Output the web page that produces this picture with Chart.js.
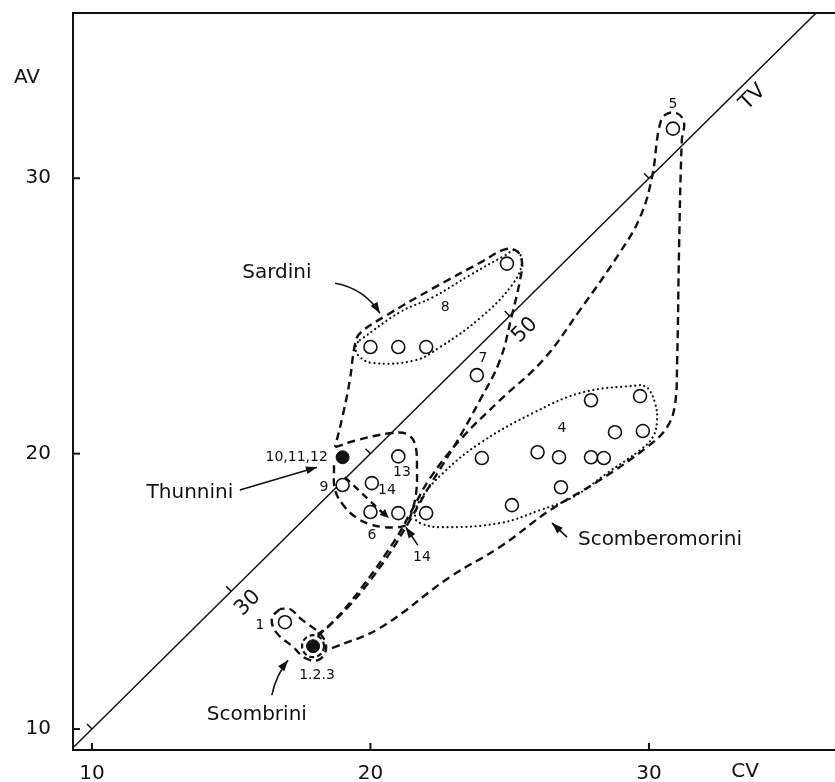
<!DOCTYPE html>
<html>
<head>
<meta charset="utf-8">
<script src="https://cdn.jsdelivr.net/npm/chart.js@4.4.1/dist/chart.umd.min.js"></script>
<style>
  html, body { margin: 0; padding: 0; background: #fff; }
  #wrap { width: 835px; height: 782px; }
</style>
</head>
<body>
<div id="wrap"><canvas id="c" width="835" height="782"></canvas></div>
<script>
// axis ticks
const xTicks = [10, 20, 30];
const yTicks = [10, 20, 30];
// ticks along the TV (= CV + AV) diagonal, two of them labelled
const tvTicks = [10, 15, 20, 25, 30];
const tvTickLabels = { 15: "30", 25: "50" };

// genera, [CV, AV]
const openPoints = [
  [20.0, 23.87], [21.0, 23.87], [22.0, 23.87], [24.9, 26.9],
  [23.82, 22.85], [30.86, 31.8],
  [21.0, 19.9], [19.0, 18.86], [20.05, 18.93],
  [20.0, 17.88], [21.0, 17.84], [22.0, 17.84],
  [24.0, 19.84], [26.0, 20.05], [25.08, 18.13], [27.92, 21.94],
  [29.68, 22.09], [28.78, 20.78], [29.78, 20.82], [26.77, 19.87],
  [27.92, 19.87], [28.38, 19.84], [26.84, 18.78],
  [16.93, 13.88]
];
const filledPoints = [[19.0, 19.87], [17.94, 13.01]];

// hand drawn outlines
const sardiniDotted = [
  [19.62, 24.12], [21.06, 25.14], [22.24, 25.68], [23.57, 26.48], [24.83, 27.2],
  [25.22, 27.39], [25.44, 26.95], [25.08, 26.12], [23.93, 24.92], [22.5, 23.87],
  [21.6, 23.39], [20.09, 23.29], [19.55, 23.58], [19.48, 23.94], [19.62, 24.12]
];
const sardiniDashed = [
  [18.11, 13.38], [19.26, 14.5], [20.52, 16.13], [21.42, 17.59], [22.14, 18.86],
  [23.03, 20.31], [23.93, 21.94], [24.65, 23.39], [25.08, 25.03], [25.37, 26.3],
  [25.44, 26.95], [25.26, 27.35], [24.83, 27.42], [24.04, 26.99], [22.24, 26.0],
  [20.59, 25.03], [19.62, 24.37], [19.44, 23.94], [19.26, 22.67], [19.01, 21.4],
  [18.73, 20.24]
];
const thunniniTop = [
  [18.73, 20.24], [19.52, 20.49], [20.7, 20.74], [21.31, 20.71], [21.6, 20.34],
  [21.67, 19.4], [21.63, 18.49], [21.45, 17.77], [21.31, 17.4]
];
const thunniniLow = [
  [18.69, 19.58], [18.73, 18.68], [19.08, 18.06], [19.52, 17.66], [19.98, 17.44],
  [20.52, 17.33], [20.99, 17.33], [21.31, 17.4]
];
const thunniniInner = [[19.08, 19.15], [20.52, 17.77]];
const scomberDashed = [
  [18.62, 12.94], [20.34, 13.67], [22.85, 15.52], [24.65, 16.61], [26.45, 17.95],
  [28.24, 19.04], [29.93, 20.24], [30.65, 20.96], [30.93, 21.76], [31.01, 23.28],
  [31.08, 27.39], [31.18, 31.38], [31.26, 32.03], [31.0, 32.36], [30.57, 32.29],
  [30.36, 31.81], [30.11, 30.04], [29.68, 28.58], [28.96, 27.31], [27.52, 25.21],
  [26.19, 23.39], [24.65, 21.94], [23.21, 20.49], [22.14, 19.11], [21.49, 17.95],
  [20.88, 16.86], [19.62, 15.05], [18.55, 13.78], [18.11, 13.45]
];
const scomberDotted = [
  [29.68, 22.49], [27.63, 22.23], [25.83, 21.47], [23.93, 20.38], [22.6, 19.29],
  [21.78, 18.31], [21.6, 17.7], [21.78, 17.48], [22.5, 17.33], [24.65, 17.48],
  [26.09, 17.95], [27.27, 18.42], [28.49, 19.29], [29.68, 20.13], [30.14, 20.6],
  [30.29, 21.22], [30.22, 21.83], [29.96, 22.38], [29.68, 22.49]
];
const scombriniDashed = [
  [16.75, 14.36], [16.46, 14.03], [16.61, 13.52], [17.22, 12.98], [17.65, 12.58],
  [18.11, 12.5], [18.4, 12.87], [18.26, 13.38], [17.47, 14.03], [17.11, 14.36],
  [16.75, 14.36]
];
const tvLine = [[9.3, 9.3], [36, 36]];

// text placed in data space
const pointLabels = [
  { t: "5", x: 30.86, y: 32.69 }, { t: "8", x: 22.68, y: 25.32 },
  { t: "7", x: 24.04, y: 23.47 }, { t: "4", x: 26.88, y: 20.93 },
  { t: "13", x: 21.13, y: 19.33 }, { t: "9", x: 18.33, y: 18.78 },
  { t: "14", x: 20.59, y: 18.68 }, { t: "6", x: 20.05, y: 17.04 },
  { t: "14", x: 21.85, y: 16.24 }, { t: "1", x: 16.03, y: 13.77 },
  { t: "1.2.3", x: 18.08, y: 11.96 },
  { t: "10,11,12", x: 18.47, y: 19.87, align: "right" }
];
const tribeLabels = [
  { t: "Sardini", x: 16.64, y: 26.55 },
  { t: "Thunnini", x: 13.52, y: 18.57 },
  { t: "Scombrini", x: 15.92, y: 10.51 },
  { t: "Scomberomorini", x: 27.45, y: 16.86, align: "left" }
];
const arrows = [
  { from: [18.73, 26.19], to: [20.34, 25.1], bend: -0.22 },
  { from: [15.31, 18.68], to: [18.08, 19.51], bend: 0 },
  { from: [16.46, 11.23], to: [17.04, 12.5], bend: -0.12 },
  { from: [27.06, 16.97], to: [26.52, 17.48], bend: 0 },
  { from: [21.7, 16.68], to: [21.27, 17.33], bend: 0 }
];

const FONT = "'DejaVu Sans', sans-serif";
const INK = "#111";

function outline(data, dotted) {
  return {
    data: data.map(p => ({ x: p[0], y: p[1] })),
    showLine: true,
    pointRadius: 0,
    borderColor: INK,
    borderWidth: dotted ? 2.2 : 2.4,
    borderDash: dotted ? [0.1, 4.6] : [8, 5],
    borderCapStyle: dotted ? "round" : "butt",
    tension: 0.4,
    fill: false
  };
}

function arrowHead(ctx, x0, y0, x1, y1, len, half) {
  const a = Math.atan2(y1 - y0, x1 - x0);
  ctx.beginPath();
  ctx.moveTo(x1, y1);
  ctx.lineTo(x1 - len * Math.cos(a) + half * Math.sin(a), y1 - len * Math.sin(a) - half * Math.cos(a));
  ctx.lineTo(x1 - len * Math.cos(a) - half * Math.sin(a), y1 - len * Math.sin(a) + half * Math.cos(a));
  ctx.closePath();
  ctx.fill();
}

const decor = {
  id: "decor",
  afterDraw(chart) {
    const { ctx, chartArea: area, scales: { x, y } } = chart;
    const P = (a, b) => [x.getPixelForValue(a), y.getPixelForValue(b)];
    ctx.save();
    ctx.strokeStyle = INK;
    ctx.fillStyle = INK;

    // top frame
    ctx.lineWidth = 2;
    ctx.beginPath();
    ctx.moveTo(area.left - 1, area.top);
    ctx.lineTo(area.right, area.top);
    ctx.stroke();

    // inward axis ticks
    xTicks.forEach(v => {
      const px = x.getPixelForValue(v);
      ctx.beginPath(); ctx.moveTo(px, area.bottom); ctx.lineTo(px, area.bottom - 7); ctx.stroke();
    });
    yTicks.forEach(v => {
      const py = y.getPixelForValue(v);
      ctx.beginPath(); ctx.moveTo(area.left, py); ctx.lineTo(area.left + 7, py); ctx.stroke();
    });

    // axis names
    ctx.font = "20px " + FONT;
    ctx.textAlign = "center";
    ctx.textBaseline = "middle";
    ctx.fillText("CV", x.getPixelForValue(33.45), area.bottom + 22);
    ctx.fillText("AV", area.left - 46, y.getPixelForValue(33.63));

    // ticks and labels along TV
    const [ax, ay] = P(tvLine[0][0], tvLine[0][1]);
    const [bx, by] = P(tvLine[1][0], tvLine[1][1]);
    const ang = Math.atan2(by - ay, bx - ax);
    const nx = Math.sin(ang), ny = -Math.cos(ang); // normal toward upper left
    ctx.lineWidth = 1.5;
    tvTicks.forEach(v => {
      const [tx, ty] = P(v, v);
      ctx.beginPath();
      ctx.moveTo(tx, ty);
      ctx.lineTo(tx + nx * 7, ty + ny * 7);
      ctx.stroke();
    });
    const rotText = (t, vx, vy, size) => {
      const [tx, ty] = P(vx, vy);
      ctx.save();
      ctx.translate(tx, ty);
      ctx.rotate(ang);
      ctx.font = size + "px " + FONT;
      ctx.fillText(t, 0, 0);
      ctx.restore();
    };
    rotText(tvTickLabels[15], 15.6, 14.57, 21);
    rotText(tvTickLabels[25], 25.55, 24.48, 21);
    rotText("TV", 33.73, 32.94, 21);

    // point numbers
    ctx.font = "14px " + FONT;
    pointLabels.forEach(l => {
      const [tx, ty] = P(l.x, l.y);
      ctx.textAlign = l.align || "center";
      ctx.fillText(l.t, tx, ty);
    });

    // tribe names
    ctx.font = "20px " + FONT;
    tribeLabels.forEach(l => {
      const [tx, ty] = P(l.x, l.y);
      ctx.textAlign = l.align || "center";
      ctx.fillText(l.t, tx, ty);
    });

    // pointer arrows
    ctx.lineWidth = 1.6;
    arrows.forEach(a => {
      const [x0, y0] = P(a.from[0], a.from[1]);
      const [x1, y1] = P(a.to[0], a.to[1]);
      const mx = (x0 + x1) / 2 - (y1 - y0) * a.bend;
      const my = (y0 + y1) / 2 + (x1 - x0) * a.bend;
      ctx.beginPath();
      ctx.moveTo(x0, y0);
      ctx.quadraticCurveTo(mx, my, x1, y1);
      ctx.stroke();
      arrowHead(ctx, mx, my, x1, y1, 11, 4);
    });

    // dashed arrow inside Thunnini
    const [ix0, iy0] = P(thunniniInner[0][0], thunniniInner[0][1]);
    const [ix1, iy1] = P(thunniniInner[1][0], thunniniInner[1][1]);
    ctx.lineWidth = 2.4;
    ctx.setLineDash([7, 5]);
    ctx.beginPath(); ctx.moveTo(ix0, iy0); ctx.lineTo(ix1, iy1); ctx.stroke();
    ctx.setLineDash([]);
    arrowHead(ctx, ix0, iy0, ix1 + 4, iy1 + 3, 9, 4);

    // dashed ring round Scombrini 1.2.3
    const [rx, ry] = P(filledPoints[1][0], filledPoints[1][1]);
    ctx.setLineDash([5, 3]);
    ctx.lineWidth = 2.2;
    ctx.beginPath(); ctx.arc(rx, ry, 11, 0, Math.PI * 2); ctx.stroke();
    ctx.setLineDash([]);
    ctx.restore();
  }
};

new Chart(document.getElementById("c"), {
  type: "scatter",
  data: {
    datasets: [
      {
        data: filledPoints.map(p => ({ x: p[0], y: p[1] })),
        pointRadius: 6.5, pointBackgroundColor: INK, pointBorderColor: INK, pointBorderWidth: 1
      },
      {
        data: openPoints.map(p => ({ x: p[0], y: p[1] })),
        pointRadius: 6.5, pointBackgroundColor: "#fff", pointBorderColor: INK, pointBorderWidth: 1.6
      },
      outline(sardiniDotted, true),
      outline(scomberDotted, true),
      outline(sardiniDashed, false),
      outline(thunniniTop, false),
      outline(thunniniLow, false),
      outline(scomberDashed, false),
      outline(scombriniDashed, false),
      {
        data: tvLine.map(p => ({ x: p[0], y: p[1] })),
        showLine: true, pointRadius: 0, borderColor: INK, borderWidth: 1.5
      }
    ]
  },
  options: {
    responsive: false,
    animation: false,
    devicePixelRatio: 1,
    layout: { autoPadding: false, padding: { top: 13, right: 0, left: 0, bottom: 0 } },
    plugins: { legend: { display: false }, tooltip: { enabled: false } },
    scales: {
      x: {
        type: "linear", min: 9.32, max: 36.68,
        grid: { display: false, drawTicks: false },
        border: { display: true, color: INK, width: 2 },
        afterBuildTicks: s => { s.ticks = xTicks.map(v => ({ value: v })); },
        afterFit: s => { s.height = 32; s.paddingLeft = 0; s.paddingRight = 0; },
        ticks: { color: INK, padding: 12, maxRotation: 0, font: { family: FONT, size: 20 } }
      },
      y: {
        type: "linear", min: 9.24, max: 36,
        grid: { display: false, drawTicks: false },
        border: { display: true, color: INK, width: 2 },
        afterBuildTicks: s => { s.ticks = yTicks.map(v => ({ value: v })); },
        afterFit: s => { s.width = 73; s.paddingTop = 0; s.paddingBottom = 0; },
        ticks: { color: INK, padding: 22, font: { family: FONT, size: 20 } }
      }
    }
  },
  plugins: [decor]
});
</script>
</body>
</html>
